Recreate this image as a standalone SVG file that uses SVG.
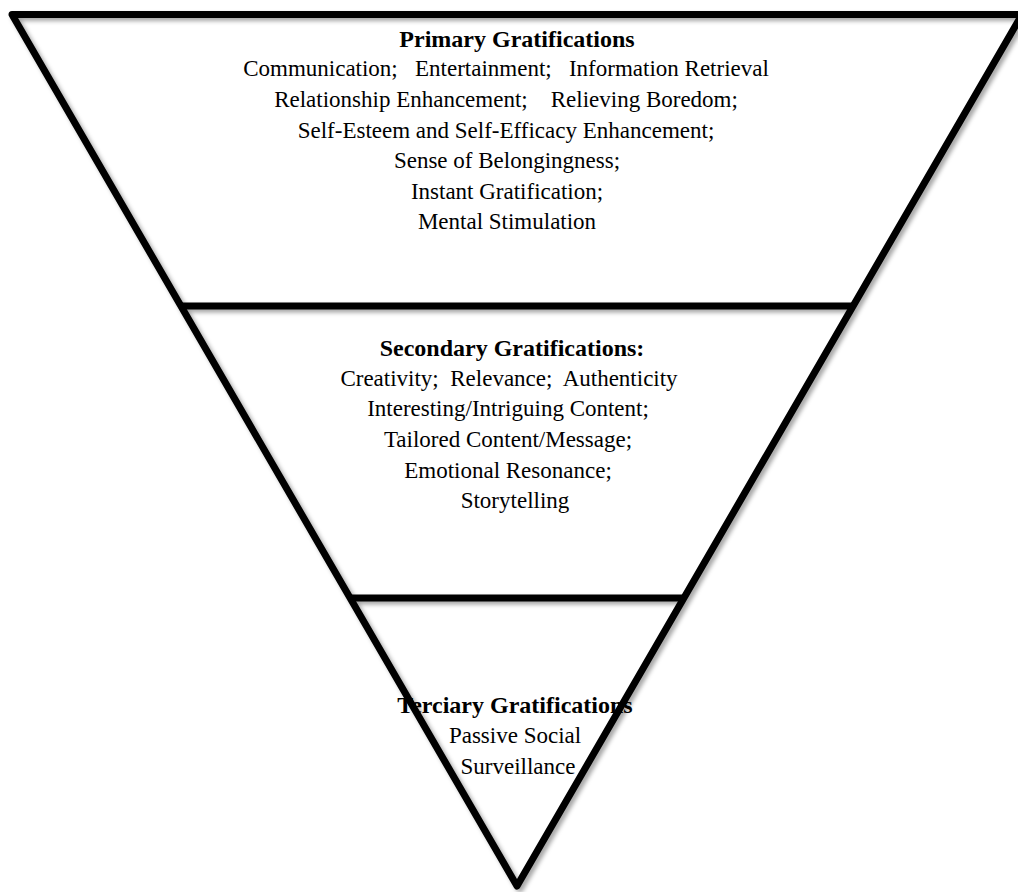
<svg xmlns="http://www.w3.org/2000/svg" width="1018" height="892" viewBox="0 0 1018 892">
  <style>
    .edge { fill: none; stroke: #000; stroke-width: 7; stroke-linejoin: round; stroke-linecap: butt; }
    .t { font-family: "Liberation Serif", "Times New Roman", serif; font-size: 23px; fill: #000; text-anchor: middle; white-space: pre; }
    .h { font-weight: bold; font-size: 24px; }
  </style>
  <defs>
    <filter id="shadow" x="-5%" y="-5%" width="110%" height="110%">
      <feDropShadow dx="3" dy="3" stdDeviation="2" flood-color="#000" flood-opacity="0.35"/>
    </filter>
  </defs>
  <rect width="1018" height="892" fill="#fff"/>

  <!-- inverted triangle and tier dividers -->
  <g id="connectors" filter="url(#shadow)">
    <path class="edge" d="M1030 14.5 L12 14.5 L517 886 L1022 14.5"/>
    <line class="edge" x1="181" y1="306" x2="853" y2="306"/>
    <line class="edge" x1="350" y1="598" x2="684" y2="598"/>
  </g>

  <!-- top tier -->
  <g id="primary">
    <text class="t h" x="517" y="47">Primary Gratifications</text>
    <text class="t" x="506" y="76">Communication;   Entertainment;   Information Retrieval</text>
    <text class="t" x="506" y="107">Relationship Enhancement;    Relieving Boredom;</text>
    <text class="t" x="506" y="138">Self-Esteem and Self-Efficacy Enhancement;</text>
    <text class="t" x="507" y="168">Sense of Belongingness;</text>
    <text class="t" x="507" y="199">Instant Gratification;</text>
    <text class="t" x="507" y="229">Mental Stimulation</text>
  </g>

  <!-- middle tier -->
  <g id="secondary">
    <text class="t h" x="512" y="356">Secondary Gratifications:</text>
    <text class="t" x="509" y="386">Creativity;  Relevance;  Authenticity</text>
    <text class="t" x="508" y="416">Interesting/Intriguing Content;</text>
    <text class="t" x="508" y="447">Tailored Content/Message;</text>
    <text class="t" x="508" y="478">Emotional Resonance;</text>
    <text class="t" x="515" y="508">Storytelling</text>
  </g>

  <!-- bottom tier -->
  <g id="tertiary">
    <text class="t h" x="515" y="713">Terciary Gratifications</text>
    <text class="t" x="515" y="743">Passive Social</text>
    <text class="t" x="518" y="774">Surveillance</text>
  </g>
</svg>
